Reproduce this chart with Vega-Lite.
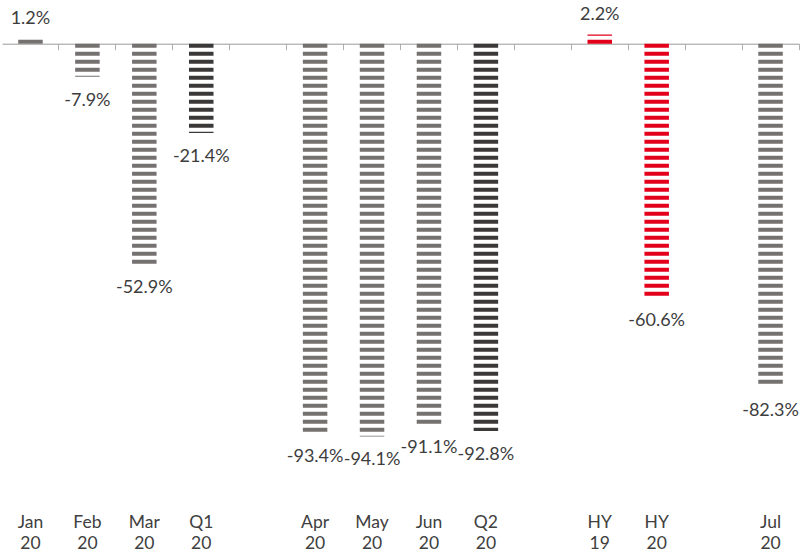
{
  "$schema": "https://vega.github.io/schema/vega-lite/v6.json",
  "width": 797,
  "height": 459,
  "autosize": {"type": "none"},
  "padding": {"left": 2, "top": 2, "right": 1, "bottom": 92},
  "background": "#ffffff",
  "config": {"view": {"stroke": null}, "font": "Lato"},
  "data": {
    "values": [
      {"period": "Jan 20", "value": 1.2, "label": "1.2%", "group": "month"},
      {"period": "Feb 20", "value": -7.9, "label": "-7.9%", "group": "month"},
      {"period": "Mar 20", "value": -52.9, "label": "-52.9%", "group": "month"},
      {"period": "Q1 20", "value": -21.4, "label": "-21.4%", "group": "quarter"},
      {"period": "Apr 20", "value": -93.4, "label": "-93.4%", "group": "month"},
      {"period": "May 20", "value": -94.1, "label": "-94.1%", "group": "month"},
      {"period": "Jun 20", "value": -91.1, "label": "-91.1%", "group": "month"},
      {"period": "Q2 20", "value": -92.8, "label": "-92.8%", "group": "quarter"},
      {"period": "HY 19", "value": 2.2, "label": "2.2%", "group": "half"},
      {"period": "HY 20", "value": -60.6, "label": "-60.6%", "group": "half"},
      {"period": "Jul 20", "value": -82.3, "label": "-82.3%", "group": "month"}
    ]
  },
  "layer": [
    {
      "mark": {"type": "rule", "strokeWidth": 24.5, "strokeDash": [4, 4], "strokeCap": "butt", "strokeDashOffset": {"expr": "4 - abs(datum.value) * 459 / 110"}},
      "encoding": {
        "x": {
          "field": "period",
          "type": "nominal",
          "sort": null,
          "scale": {
            "type": "band",
            "domain": ["Jan 20", "Feb 20", "Mar 20", "Q1 20", "gap1", "Apr 20", "May 20", "Jun 20", "Q2 20", "gap2", "HY 19", "HY 20", "gap3", "Jul 20"],
            "paddingInner": 0,
            "paddingOuter": 0
          },
          "axis": {
            "orient": "bottom",
            "title": null,
            "domain": false,
            "ticks": false,
            "tickSize": 0,
            "grid": false,
            "labelAngle": 0,
            "labelPadding": 52,
            "labelFont": "Lato",
            "labelFontSize": 17.5,
            "labelColor": "#404040",
            "labelLineHeight": 21,
            "labelBaseline": "top",
            "labelExpr": "indexof(datum.value, 'gap') == 0 ? '' : split(datum.value, ' ')"
          }
        },
        "y": {
          "field": "value",
          "type": "quantitative",
          "scale": {"domain": [-100, 10], "nice": false, "zero": false},
          "axis": null
        },
        "y2": {"datum": 0},
        "color": {
          "field": "group",
          "type": "nominal",
          "scale": {"domain": ["month", "quarter", "half"], "range": ["#767171", "#3b3838", "#e2001a"]},
          "legend": null
        }
      }
    },
    {
      "transform": [{"filter": "datum.value < 0"}],
      "mark": {"type": "text", "baseline": "middle", "align": "center", "dy": 24, "fontSize": 18, "font": "Lato", "color": "#3d3d3d"},
      "encoding": {
        "x": {"field": "period", "type": "nominal", "sort": null, "axis": null},
        "y": {"field": "value", "type": "quantitative"},
        "text": {"field": "label"}
      }
    },
    {
      "transform": [{"filter": "datum.value >= 0"}],
      "mark": {"type": "text", "baseline": "middle", "align": "center", "dy": -20, "fontSize": 18, "font": "Lato", "color": "#3d3d3d"},
      "encoding": {
        "x": {
          "field": "period",
          "type": "nominal",
          "sort": null,
          "axis": {
            "orient": "top",
            "offset": -41.7,
            "title": null,
            "labels": false,
            "grid": false,
            "domain": true,
            "domainColor": "#9a9a9a",
            "domainWidth": 1,
            "ticks": true,
            "tickSize": -6,
            "tickColor": "#b0b0b0",
            "tickWidth": 1,
            "bandPosition": 1
          }
        },
        "y": {"field": "value", "type": "quantitative"},
        "text": {"field": "label"}
      }
    }
  ],
  "resolve": {"axis": {"x": "independent"}}
}
